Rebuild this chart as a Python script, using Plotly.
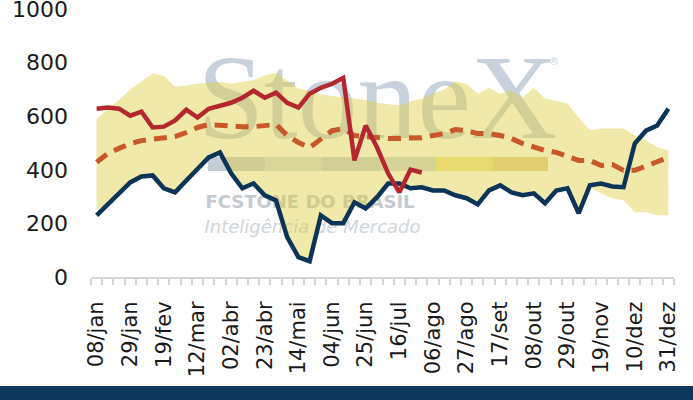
import plotly.graph_objects as go

weeks = ["08/jan","15/jan","22/jan","29/jan","05/fev","12/fev","19/fev","26/fev",
         "05/mar","12/mar","19/mar","26/mar","02/abr","09/abr","16/abr","23/abr","30/abr",
         "07/mai","14/mai","21/mai","28/mai","04/jun","11/jun","18/jun","25/jun",
         "02/jul","09/jul","16/jul","23/jul","30/jul","06/ago","13/ago","20/ago","27/ago",
         "03/set","10/set","17/set","24/set","01/out","08/out","15/out","22/out","29/out",
         "05/nov","12/nov","19/nov","26/nov","03/dez","10/dez","17/dez","24/dez","31/dez"]

tick_labels = ["08/jan","29/jan","19/fev","12/mar","02/abr","23/abr","14/mai","04/jun",
               "25/jun","16/jul","06/ago","27/ago","17/set","08/out","29/out","19/nov",
               "10/dez","31/dez"]

band_max = [591,625,660,700,730,760,750,710,715,722,725,728,721,728,735,752,762,732,703,695,
            682,675,670,665,660,650,645,640,655,665,685,700,730,720,684,706,684,695,669,706,
            665,658,647,595,548,554,554,554,528,510,485,472]
band_min = [250,275,312,353,375,379,331,316,360,405,446,465,387,331,349,305,286,149,74,59,
            230,201,201,279,256,297,349,349,331,335,323,323,305,294,271,323,342,316,305,312,
            275,323,331,238,335,312,294,286,242,242,230,230]
media = [428,461,480,498,509,513,517,524,539,558,569,565,565,561,561,565,569,528,502,483,
         517,546,554,528,524,520,517,517,520,520,528,535,550,546,535,535,528,517,498,483,
         472,465,450,435,435,416,420,398,398,412,430,446]
ano_anterior = [230,271,312,353,375,379,331,316,360,405,446,465,387,331,349,305,286,149,74,59,
                230,201,201,279,256,297,349,349,331,335,323,323,305,294,271,323,342,316,305,312,
                275,323,331,238,342,349,338,335,498,546,565,628]
ano_atual = [628,632,628,602,617,558,561,584,624,595,628,639,650,669,695,669,688,650,632,684,
             706,721,743,435,565,485,387,316,401,390]

BAND = "rgba(222,206,66,0.45)"
RED = "#b5272f"
BLUE = "#0c3457"
ORANGE = "#c8572a"
FONT = "DejaVu Sans"

fig = go.Figure()
fig.add_trace(go.Scatter(x=weeks, y=band_min, mode="lines", line=dict(width=0),
                         hoverinfo="skip", showlegend=False))
fig.add_trace(go.Scatter(x=weeks, y=band_max, mode="lines", line=dict(width=0),
                         fill="tonexty", fillcolor=BAND, name="Mín-Máx", showlegend=False))
fig.add_trace(go.Scatter(x=weeks, y=ano_anterior, mode="lines",
                         line=dict(color=BLUE, width=4.5), name="Ano anterior"))
fig.add_trace(go.Scatter(x=weeks, y=media, mode="lines",
                         line=dict(color=ORANGE, width=5, dash="13px,8px"), name="Média"))
fig.add_trace(go.Scatter(x=weeks[:len(ano_atual)], y=ano_atual, mode="lines",
                         line=dict(color=RED, width=4.5), name="Ano atual"))

# plot area in pixels: x 91..674, y 9..277
PX0, PW, PY0, PH = 91.0, 583.0, 277.0, 268.0
def px(x):
    return (x - PX0) / PW
def py(y):
    return (PY0 - y) / PH

shapes = []
def label_box(x0, x1, y0, y1, text, size, color, family, layer="below"):
    shapes.append(dict(type="rect", xref="paper", yref="paper", layer=layer,
                       x0=px(x0), x1=px(x1), y0=py(y1), y1=py(y0),
                       line=dict(width=0), fillcolor="rgba(0,0,0,0)",
                       label=dict(text=text, textposition="middle center",
                                  font=dict(size=size, color=color, family=family))))

label_box(195, 560, 24, 144, "StoneX", 120, "#c8d2dc", "Liberation Serif")
label_box(546, 562, 52, 68, "®", 11, "#cbd5de", "DejaVu Sans")
label_box(200, 420, 189, 211, "<b>FCSTONE DO BRASIL</b>", 18, "#c4cad0", "DejaVu Sans")
label_box(200, 425, 214, 236, "<i>Inteligência de Mercado</i>", 18, "#d0d5d9", "DejaVu Sans")

seg_colors = ["#c3cdd6", "#d5dce2", "#c7d0d8", "#d0d7dc", "#f1e494", "#e6cd96"]
seg_x = [208, 265, 322, 379, 436, 493, 548]
for i, c in enumerate(seg_colors):
    shapes.append(dict(type="rect", xref="paper", yref="paper", layer="below",
                       x0=px(seg_x[i]), x1=px(seg_x[i + 1]), y0=py(171), y1=py(157),
                       line=dict(width=0), fillcolor=c))

# bottom dark band
shapes.append(dict(type="rect", xref="paper", yref="paper", layer="above",
                   x0=px(-5), x1=px(700), y0=py(405), y1=py(386),
                   line=dict(width=0), fillcolor="#0e395c"))

fig.update_layout(
    width=693, height=400, autosize=False,
    margin=dict(l=91, r=19, t=9, b=123, pad=0),
    paper_bgcolor="white", plot_bgcolor="white",
    showlegend=False,
    shapes=shapes,
    xaxis=dict(type="category", categoryorder="array", categoryarray=weeks,
               range=[-0.5, len(weeks) - 0.5], automargin=False,
               tickmode="array", tickvals=weeks,
               ticktext=[w if w in tick_labels else "" for w in weeks],
               tickson="boundaries", ticks="outside", ticklen=6, tickwidth=1.5,
               tickcolor="#d6d6d6", showline=True, linecolor="#d6d6d6", linewidth=2,
               showgrid=False, zeroline=False, tickangle=-90,
               tickfont=dict(family=FONT, size=21, color="#1a1a1a"),
               ticklabelstandoff=14),
    yaxis=dict(range=[0, 1000], tickmode="array", tickvals=[0, 200, 400, 600, 800, 1000],
               automargin=False, ticklabeloverflow="allow",
               showgrid=False, zeroline=False, showline=False, ticks="",
               tickfont=dict(family=FONT, size=22, color="#1a1a1a"),
               ticklabelstandoff=22),
)

fig.write_html("out.html", config={"displayModeBar": False},
               post_script="document.body.style.margin='0';")
